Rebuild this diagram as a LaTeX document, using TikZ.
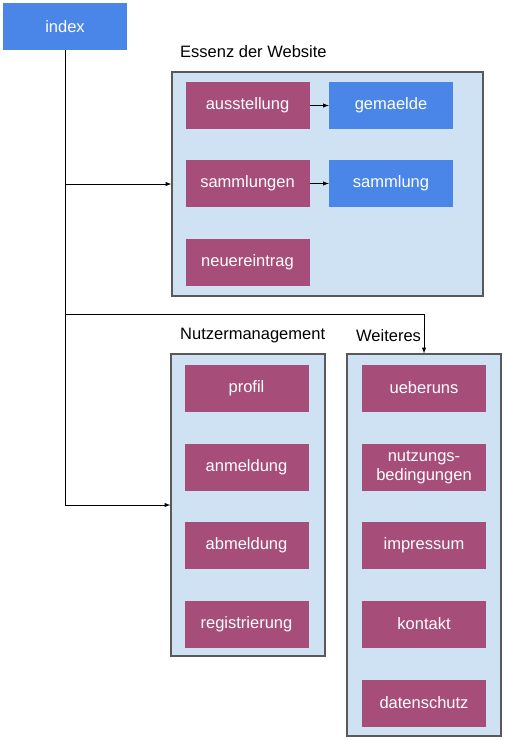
\documentclass[tikz,border=0pt]{standalone}
\usepackage{fontspec}
\setmainfont{Liberation Sans}
\definecolor{idxblue}{HTML}{4A86E8}
\definecolor{pagered}{HTML}{A64D79}
\definecolor{grpfill}{HTML}{CFE2F3}
\definecolor{grpline}{HTML}{595959}
\begin{document}
\begin{tikzpicture}[x=1pt,y=-1pt,
  every node/.style={font=\fontsize{16.5}{19}\selectfont},
  page/.style={fill=pagered,text=white,minimum width=124pt,minimum height=47pt,inner sep=0pt,align=center},
  mainpage/.style={page,fill=idxblue},
  group/.style={draw=grpline,line width=1.3pt,fill=grpfill,inner sep=0pt},
  grouptitle/.style={anchor=west,inner sep=0pt},
  link/.style={line width=1pt,-latex}]
\useasboundingbox (0,0) rectangle (507,740);
%\draw [help lines, color=lightgray] (0,0) grid[step=50] (507,740);
\node [mainpage] (index) at (65,26.5) {index};
% groups
\node [group,minimum width=311pt,minimum height=224pt] (essenz) at (327.5,184) {};
\node [group,minimum width=154pt,minimum height=302pt] (nutzer) at (248,505) {};
\node [group,minimum width=154pt,minimum height=382pt] (weiteres) at (424,545) {};
\node [grouptitle] (essenztitle) at (180,52) {Essenz der Website};
\node [grouptitle] (nutzertitle) at (180,336) {Nutzermanagement};
\node [grouptitle] (weiterestitle) at (356,336) {Weiteres};
% Essenz der Website
\node [page] (ausstellung) at (247.5,105.5) {ausstellung};
\node [mainpage] (gemaelde) at (391,105.5) {gemaelde};
\node [page] (sammlungen) at (247.5,183.5) {sammlungen};
\node [mainpage] (sammlung) at (391,183.5) {sammlung};
\node [page] (neuereintrag) at (247.5,262) {neuereintrag};
% Nutzermanagement
\node [page] (profil) at (246.5,388) {profil};
\node [page] (anmeldung) at (246.5,467) {anmeldung};
\node [page] (abmeldung) at (246.5,545.5) {abmeldung};
\node [page] (registrierung) at (246.5,624) {registrierung};
% Weiteres
\node [page] (ueberuns) at (424,388) {ueberuns};
\node [page] (nutzungsbed) at (424,467) {nutzungs-\\bedingungen};
\node [page] (impressum) at (424,545.5) {impressum};
\node [page] (kontakt) at (424,624) {kontakt};
\node [page] (datenschutz) at (424,703) {datenschutz};
% links
\coordinate (knee) at (65,314);
\draw [link] (index.south) |- (essenz.west);
\draw [link] (index.south) |- (nutzer.west);
\draw [link] (knee) -| (weiteres.north);
\draw [link] (ausstellung) -- (gemaelde);
\draw [link] (sammlungen) -- (sammlung);

\end{tikzpicture}
\end{document}
